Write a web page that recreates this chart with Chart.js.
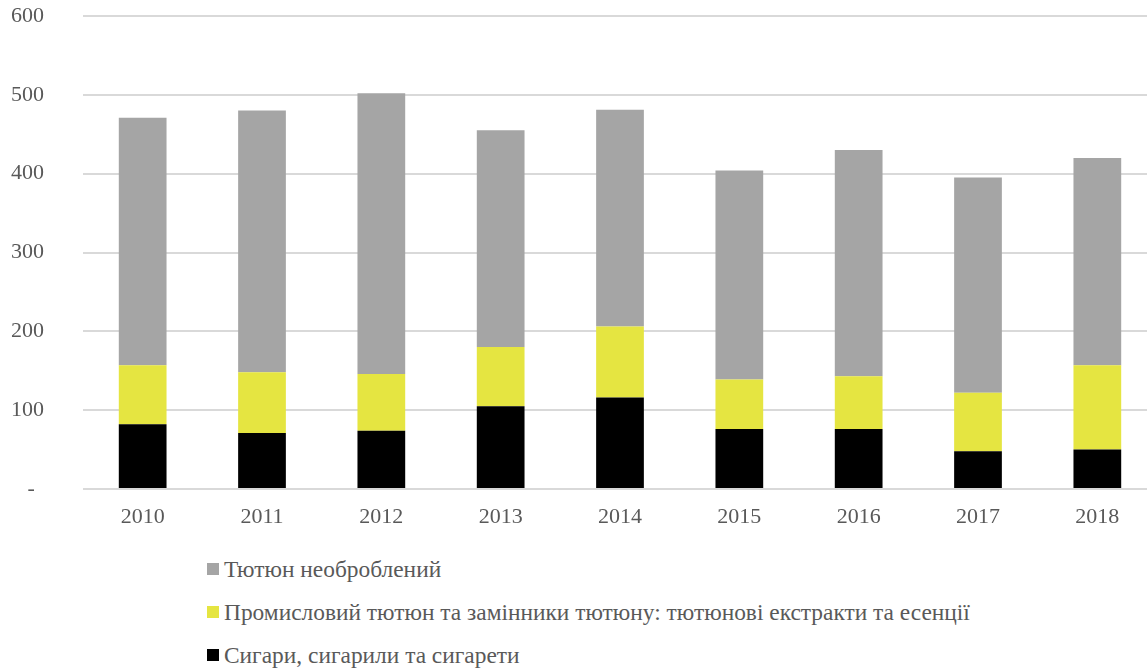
<!DOCTYPE html>
<html>
<head>
<meta charset="utf-8">
<script src="https://cdn.jsdelivr.net/npm/chart.js@4.4.0/dist/chart.umd.min.js"></script>
<style>
  html, body { margin: 0; padding: 0; background: #fff; overflow: hidden; width: 1147px; height: 669px; }
  #wrap { position: absolute; left: 0; top: 0; width: 1157px; height: 529px; }
  #legend { position: absolute; left: 207px; top: 0; font-family: "Liberation Serif", "DejaVu Serif", serif; font-size: 23.4px; color: #595959; }
  .item { position: absolute; left: 0; white-space: nowrap; display: flex; align-items: center; height: 26px; }
  .box { width: 12px; height: 12px; margin-right: 5px; flex: none; }
</style>
</head>
<body>
<div id="wrap"><canvas id="c"></canvas></div>
<div id="legend"></div>
<script>
const categories = ['2010', '2011', '2012', '2013', '2014', '2015', '2016', '2017', '2018'];
const cigars = [82, 71, 74, 105, 116, 76, 76, 48, 50];
const industrialTobacco = [75, 77, 72, 75, 90, 63, 67, 74, 107];
const rawTobacco = [314, 332, 356, 275, 275, 265, 287, 273, 263];
const yTicks = [0, 100, 200, 300, 400, 500, 600];

const labelRaw = 'Тютюн необроблений';
const labelInd = 'Промисловий тютюн та замінники тютюну: тютюнові екстракти та есенції';
const labelCig = 'Сигари, сигарили та сигарети';

const FONT = '"Liberation Serif", "DejaVu Serif", serif';
const TXT = '#595959';

const chart = new Chart(document.getElementById('c'), {
  type: 'bar',
  data: {
    labels: categories,
    datasets: [
      { label: labelCig, data: cigars, backgroundColor: '#000000' },
      { label: labelInd, data: industrialTobacco, backgroundColor: '#e5e541' },
      { label: labelRaw, data: rawTobacco, backgroundColor: '#a5a5a5' }
    ]
  },
  options: {
    responsive: true,
    maintainAspectRatio: false,
    animation: false,
    layout: { padding: { top: 16, left: 11, right: 0, bottom: 0 } },
    datasets: { bar: { barPercentage: 0.40, categoryPercentage: 1.0 } },
    plugins: { legend: { display: false }, tooltip: { enabled: false } },
    scales: {
      x: {
        stacked: true,
        grid: { display: false, drawTicks: false },
        border: { display: false },
        afterFit: (axis) => { axis.height = 40; },
        ticks: { color: TXT, font: { family: FONT, size: 22 }, padding: 15 }
      },
      y: {
        stacked: true,
        min: 0, max: 600,
        afterBuildTicks: (axis) => { axis.ticks = yTicks.map(v => ({ value: v })); },
        afterFit: (axis) => { axis.width = 72; },
        grid: { color: '#d9d9d9', lineWidth: 2, drawTicks: false },
        border: { display: false },
        ticks: {
          color: TXT, font: { family: FONT, size: 22 }, padding: 0, crossAlign: 'far',
          callback: (v) => v === 0 ? '\u00a0\u00a0\u00a0-' : String(v)
        }
      }
    }
  }
});

// legend built from the chart's datasets (reverse stacking order)
const legend = document.getElementById('legend');
const rowsY = [569, 612, 655];
chart.data.datasets.slice().reverse().forEach((ds, i) => {
  const it = document.createElement('div');
  it.className = 'item';
  it.style.top = (rowsY[i] - 13) + 'px';
  const b = document.createElement('span');
  b.className = 'box';
  b.style.background = ds.backgroundColor;
  const t = document.createElement('span');
  t.textContent = ds.label;
  it.appendChild(b); it.appendChild(t);
  legend.appendChild(it);
});
</script>
</body>
</html>
